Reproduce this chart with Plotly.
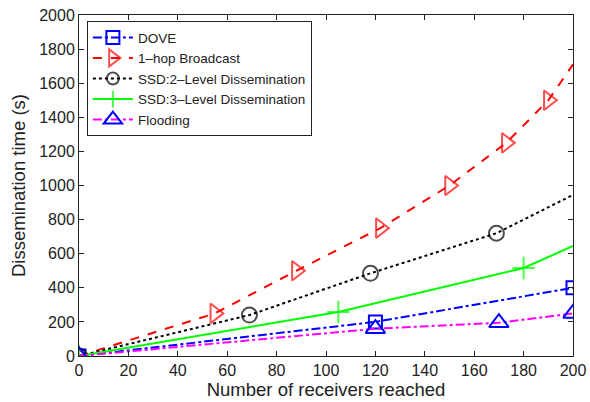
import plotly.graph_objects as go

# Dissemination time vs. number of receivers reached
dove_x = [0, 120, 200]
dove_y = [0, 200, 400]

hop_x = [0, 55, 88, 122, 150, 173, 190, 200]
hop_y = [0, 250, 500, 750, 1000, 1250, 1500, 1710]
hop_marked = [1, 1, 1, 1, 1, 1, 1, 0]

ssd2_x = [0, 69, 118, 169, 200]
ssd2_y = [0, 240, 485, 720, 945]
ssd2_marked = [1, 1, 1, 1, 0]

ssd3_x = [0, 105, 180, 200]
ssd3_y = [0, 258, 516, 645]
ssd3_marked = [1, 1, 1, 0]

flood_x = [0, 120, 170, 200]
flood_y = [0, 160, 195, 250]

x_ticks = list(range(0, 201, 20))
y_ticks = list(range(0, 2001, 200))

FONT = "Liberation Sans, Arial, Helvetica, sans-serif"


def sizes(flags, s):
    return [s if f else 0 for f in flags]


fig = go.Figure()

fig.add_trace(go.Scatter(
    x=dove_x, y=dove_y, name="DOVE", mode="lines+markers",
    line=dict(color="#0000ff", width=2, dash="dashdot"),
    marker=dict(symbol="square-open", size=13, color="#0000ff",
                line=dict(width=2, color="#0000ff")),
))
fig.add_trace(go.Scatter(
    x=hop_x, y=hop_y, name="1\u2013hop Broadcast", mode="lines+markers",
    line=dict(color="#ff0000", width=2, dash="dash"),
    marker=dict(symbol="triangle-right-open", size=sizes(hop_marked, 17),
                color="#ff0000", line=dict(width=2, color="#ff0000")),
))
fig.add_trace(go.Scatter(
    x=ssd2_x, y=ssd2_y, name="SSD:2\u2013Level Dissemination", mode="lines+markers",
    line=dict(color="#000000", width=2, dash="dot"),
    marker=dict(symbol="circle-open", size=sizes(ssd2_marked, 15),
                color="#000000", line=dict(width=2, color="#000000")),
))
fig.add_trace(go.Scatter(
    x=ssd3_x, y=ssd3_y, name="SSD:3\u2013Level Dissemination", mode="lines+markers",
    line=dict(color="#00ff00", width=2),
    marker=dict(symbol="cross-thin-open", size=sizes(ssd3_marked, 16),
                color="#00ff00", line=dict(width=2, color="#00ff00")),
))
fig.add_trace(go.Scatter(
    x=flood_x, y=flood_y, name="Flooding", mode="lines+markers",
    line=dict(color="#ff00ff", width=2, dash="dashdot"),
    marker=dict(symbol="triangle-up-open", size=17, color="#0000ff",
                line=dict(width=2, color="#0000ff")),
))

axis_common = dict(
    showgrid=False, zeroline=False, showline=True, linecolor="#222222",
    linewidth=1, mirror="allticks", ticks="inside", ticklen=5,
    tickcolor="#222222", tickfont=dict(size=16, color="#222222", family=FONT),
    automargin=False,
)

fig.update_layout(
    width=590, height=402,
    margin=dict(l=79, r=17, t=15, b=46),
    paper_bgcolor="white", plot_bgcolor="white",
    font=dict(family=FONT, color="#222222"),
    xaxis=dict(range=[0, 200], tickvals=x_ticks,
               title=dict(text="Number of receivers reached",
                          font=dict(size=18.5), standoff=1),
               **axis_common),
    yaxis=dict(range=[0, 2000], tickvals=y_ticks,
               title=dict(text="Dissemination time (s)",
                          font=dict(size=18.5), standoff=8),
               **axis_common),
    legend=dict(x=0.016, y=0.982, xanchor="left", yanchor="top",
                bgcolor="white", bordercolor="#222222", borderwidth=1,
                font=dict(size=13.5, color="#222222"),
                tracegroupgap=0, itemwidth=40),
    showlegend=True,
)

fig.write_html("out.html")
